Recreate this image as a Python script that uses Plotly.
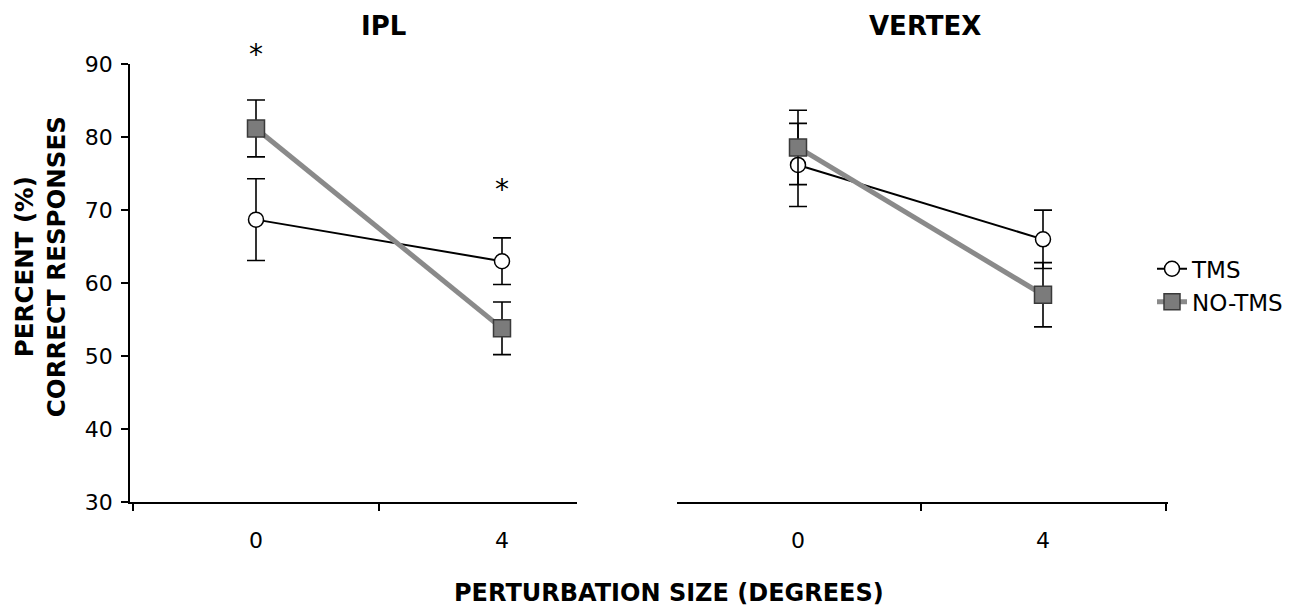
import plotly.graph_objects as go

# ---- data ----
categories = ["0", "4"]
ipl_tms = [68.7, 63.0]
ipl_tms_err = [5.6, 3.2]
ipl_notms = [81.2, 53.8]
ipl_notms_err = [3.9, 3.6]
vertex_tms = [76.2, 66.0]
vertex_tms_err = [5.7, 4.0]
vertex_notms = [78.6, 58.4]
vertex_notms_err = [5.1, 4.4]
y_ticks = [30, 40, 50, 60, 70, 80, 90]
y_range = [30, 90]
# significance marks in the IPL panel (category index, value)
sig_x = [0, 1]
sig_y = [91.3, 72.8]

W, H = 1301, 608
FONT = "DejaVu Sans, Verdana, sans-serif"
xpos = list(range(len(categories)))

# page placement helpers (figure appears offset/squeezed in the captured page)
OX, OY, SY = 8.0, 18.5, 0.964
def hx(t):
    return (t - OX) / W
def vy(t):
    return 1 - ((t - OY) / SY) / H

fig = go.Figure()

def add_pair(tms, tms_err, notms, notms_err, xa, ya, show):
    fig.add_trace(go.Scatter(
        x=xpos, y=tms, mode="lines+markers", name="TMS",
        legendgroup="tms", showlegend=show,
        line=dict(color="black", width=2),
        marker=dict(symbol="circle", size=15, color="white",
                    line=dict(color="black", width=1.5)),
        error_y=dict(type="data", array=tms_err, color="black", thickness=1.6, width=9),
        xaxis=xa, yaxis=ya, cliponaxis=False))
    fig.add_trace(go.Scatter(
        x=xpos, y=notms, mode="lines+markers", name="NO-TMS",
        legendgroup="notms", showlegend=show,
        line=dict(color="#8a8a8a", width=5),
        marker=dict(symbol="square", size=17, color="#7b7b7b",
                    line=dict(color="#3a3a3a", width=1.5)),
        error_y=dict(type="data", array=notms_err, color="black", thickness=1.6, width=9),
        xaxis=xa, yaxis=ya, cliponaxis=False))

add_pair(ipl_tms, ipl_tms_err, ipl_notms, ipl_notms_err, "x", "y", True)
add_pair(vertex_tms, vertex_tms_err, vertex_notms, vertex_notms_err, "x2", "y2", False)

ydom = [vy(503), vy(63)]
axis_common = dict(showgrid=False, zeroline=False, showline=True, linecolor="black",
                   linewidth=1.5, tickfont=dict(family=FONT, size=22, color="black"))

fig.update_layout(
    width=W, height=H,
    margin=dict(l=0, r=0, t=0, b=0),
    paper_bgcolor="white", plot_bgcolor="white",
    font=dict(family=FONT, color="black"),
    xaxis=dict(domain=[hx(130), hx(577)], range=[-0.5122, 1.3049],
               tickvals=xpos, ticktext=categories, ticks="", ticklabelstandoff=18,
               minor=dict(tickvals=[-0.5, 0.5], ticks="outside", ticklen=7,
                          tickcolor="black", tickwidth=1.5),
               anchor="y", **axis_common),
    yaxis=dict(domain=ydom, range=y_range, tickvals=y_ticks, ticks="outside",
               ticklen=7, tickcolor="black", tickwidth=1.5, ticklabelstandoff=4,
               anchor="x", **axis_common),
    xaxis2=dict(domain=[hx(677), hx(1168)], range=[-0.4939, 1.5102],
                tickvals=xpos, ticktext=categories, ticks="", ticklabelstandoff=18,
                minor=dict(tickvals=[0.5, 1.5], ticks="outside", ticklen=7,
                           tickcolor="black", tickwidth=1.5),
                anchor="y2", **axis_common),
    yaxis2=dict(domain=ydom, range=y_range, visible=False, anchor="x2"),
    legend=dict(x=hx(1152), y=vy(247), xanchor="left", yanchor="top",
                font=dict(family=FONT, size=23, color="black"),
                bgcolor="rgba(0,0,0,0)", tracegroupgap=0),
    showlegend=True,
)

annotations = [
    dict(text="<b>IPL</b>", x=hx(383), y=vy(25), xref="paper", yref="paper",
         xanchor="center", yanchor="middle", showarrow=False, font=dict(family=FONT, size=26)),
    dict(text="<b>VERTEX</b>", x=hx(925), y=vy(25), xref="paper", yref="paper",
         xanchor="center", yanchor="middle", showarrow=False, font=dict(family=FONT, size=26)),
    dict(text="<b>PERCENT (%)<br>CORRECT RESPONSES</b>", x=hx(40), y=vy(267),
         xref="paper", yref="paper", xanchor="center", yanchor="middle",
         showarrow=False, textangle=-90, font=dict(family=FONT, size=24.5)),
    dict(text="<b>PERTURBATION SIZE (DEGREES)</b>", x=hx(669), y=vy(595),
         xref="paper", yref="paper", xanchor="center", yanchor="middle",
         showarrow=False, font=dict(family=FONT, size=24)),
]
# asterisks: x through the category axis, y through the value range (domain fraction)
for sx, sv in zip(sig_x, sig_y):
    annotations.append(dict(text="*", x=xpos[sx], xref="x", yref="y domain",
                            y=(sv - y_range[0]) / (y_range[1] - y_range[0]),
                            xanchor="center", yanchor="middle", showarrow=False,
                            font=dict(family=FONT, size=28, color="black")))
fig.update_layout(annotations=annotations)

fig.write_html("out.html")
